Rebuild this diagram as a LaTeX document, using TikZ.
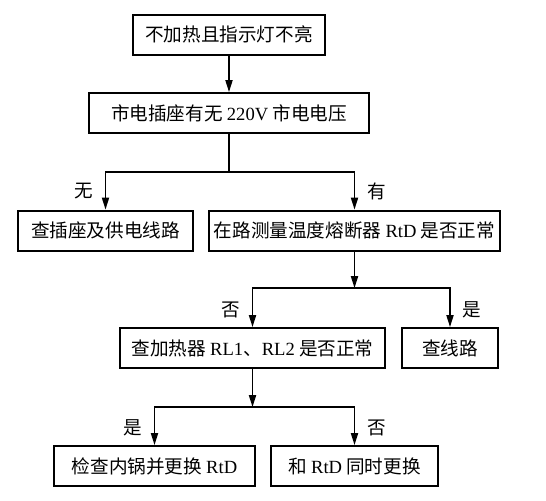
\documentclass[tikz,border=0pt]{standalone}
\usepackage{fontspec}
\setmainfont{Liberation Serif}
\newfontfamily\cjk{Noto Sans CJK SC}
\usetikzlibrary{arrows.meta,positioning}
\tikzset{
  kuang/.style={draw=black, line width=1pt, fill=white, inner sep=0pt,
    minimum height=20pt, font=\cjk\fontsize{9.3}{11}\selectfont},
  jiantou/.style={-{Triangle[length=6pt,width=3.6pt]}, line width=0.7pt},
  xian/.style={line width=0.7pt},
  biaoqian/.style={font=\cjk\fontsize{9.3}{11}\selectfont, inner sep=1pt},
}
\newcommand{\xiwen}[1]{{\rmfamily #1}}

\begin{document}
\begin{tikzpicture}[x=0.5pt, y=-0.5pt]
    \useasboundingbox (0,0) rectangle (546,500);
    \node[kuang, minimum width=96pt] (b1) at (229,34.5) {不加热且指示灯不亮};
    \node[kuang, minimum width=140pt] (b2) at (229,113) {市电插座有无 \xiwen{220V} 市电电压};
    \node[kuang, minimum width=87.5pt] (b3) at (105.5,230.5) {查插座及供电线路};
    \node[kuang, minimum width=145.5pt] (b4) at (354.5,230.5) {在路测量温度熔断器 \xiwen{RtD} 是否正常};
    \node[kuang, minimum width=132.5pt] (b5) at (252.5,348) {查加热器 \xiwen{RL1}、\xiwen{RL2} 是否正常};
    \node[kuang, minimum width=48pt] (b6) at (450,348) {查线路};
    \node[kuang, minimum width=100.5pt] (b7) at (154.5,466) {检查内锅并更换 \xiwen{RtD}};
    \node[kuang, minimum width=83.5pt] (b8) at (354.5,466) {和 \xiwen{RtD} 同时更换};
    \coordinate (j1) at (229,172);
    \coordinate (j2) at (354.5,288);
    \coordinate (j3) at (252.5,407);
    % top
    \draw[jiantou] (b1.south) -- (b2.north);
    \draw[xian] (b2.south) -- (j1);
    \draw[jiantou] (j1) -| node[biaoqian, pos=0.76, left=5pt] (l1) {无} (b3.north);
    \draw[jiantou] (j1) -| node[biaoqian, pos=0.76, right=5pt] (l2) {有} (b4.north);
    % RtD
    \draw[jiantou] (b4.south) -- (j2);
    \draw[jiantou] (j2) -| node[biaoqian, pos=0.78, left=5pt] (l3) {否} (b5.north);
    \draw[jiantou] (j2) -| node[biaoqian, pos=0.78, right=5pt] (l4) {是} (b6.north);
    % RL1, RL2
    \draw[jiantou] (b5.south) -- (j3);
    \draw[jiantou] (j3) -| node[biaoqian, pos=0.78, left=5pt] (l5) {是} (b7.north);
    \draw[jiantou] (j3) -| node[biaoqian, pos=0.78, right=5pt] (l6) {否} (b8.north);
\end{tikzpicture}
\end{document}
